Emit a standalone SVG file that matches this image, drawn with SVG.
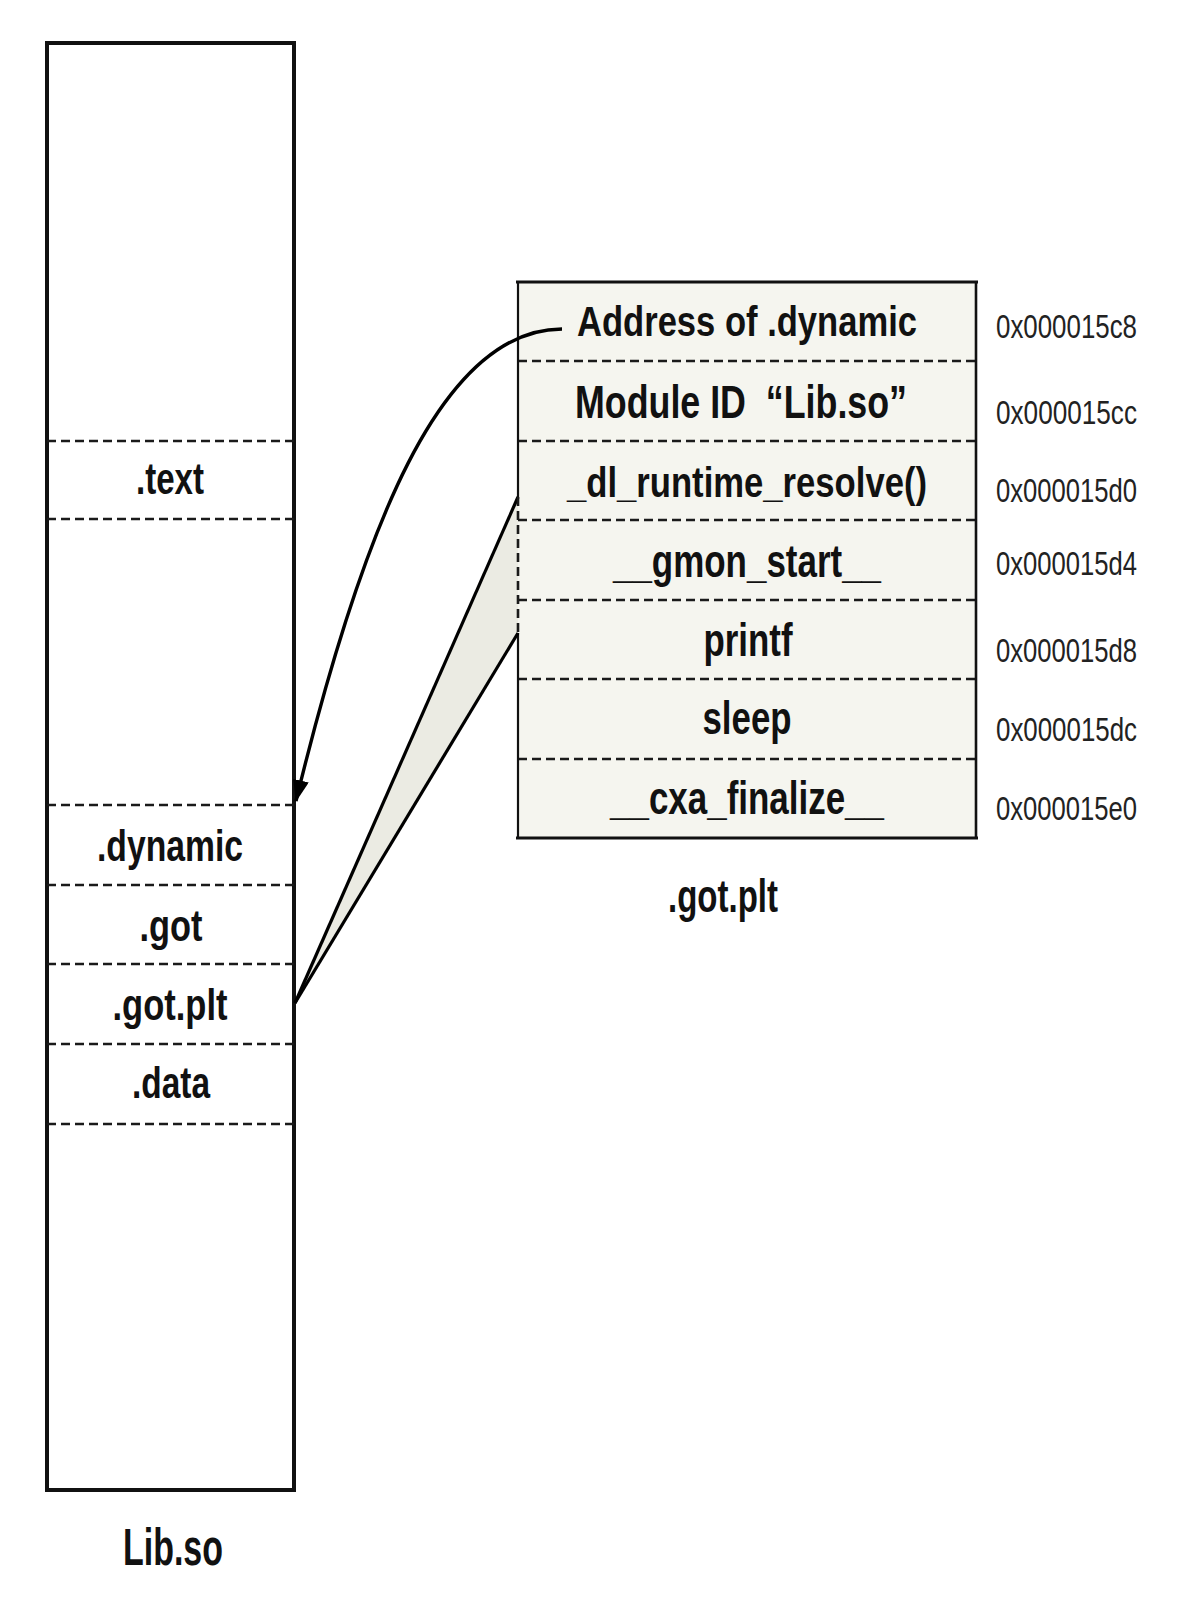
<svg xmlns="http://www.w3.org/2000/svg" width="1180" height="1602" viewBox="0 0 1180 1602">
<style>
.lbl{font-family:"Liberation Sans Narrow","Liberation Sans",Arial,sans-serif;font-weight:bold;fill:#111;text-anchor:middle}
.hex{font-family:"Liberation Sans Narrow","Liberation Sans",Arial,sans-serif;font-size:33px;fill:#222}
.dash{stroke:#1a1a1a;stroke-width:2.6;stroke-dasharray:9 5;fill:none}
.edge{stroke:#111;fill:none}
</style>
<defs>
<marker id="ah" markerUnits="userSpaceOnUse" markerWidth="24" markerHeight="18" refX="21" refY="8" orient="auto">
<path d="M0,0 L22,8 L0,16 z" fill="#000"/>
</marker>
</defs>
<rect width="1180" height="1602" fill="#fff"/>

<g id="libso">
<rect x="47" y="43" width="247" height="1447" fill="#fff" stroke="#111" stroke-width="4"/>
<line class="dash" x1="47" y1="441" x2="294" y2="441"/>
<line class="dash" x1="47" y1="519" x2="294" y2="519"/>
<line class="dash" x1="47" y1="805" x2="294" y2="805"/>
<line class="dash" x1="47" y1="885" x2="294" y2="885"/>
<line class="dash" x1="47" y1="964" x2="294" y2="964"/>
<line class="dash" x1="47" y1="1044" x2="294" y2="1044"/>
<line class="dash" x1="47" y1="1124" x2="294" y2="1124"/>
<text class="lbl" x="170" y="494" font-size="45" textLength="68" lengthAdjust="spacingAndGlyphs">.text</text>
<text class="lbl" x="170" y="861" font-size="44" textLength="146" lengthAdjust="spacingAndGlyphs">.dynamic</text>
<text class="lbl" x="171" y="941" font-size="44" textLength="63" lengthAdjust="spacingAndGlyphs">.got</text>
<text class="lbl" x="170" y="1020" font-size="44" textLength="115" lengthAdjust="spacingAndGlyphs">.got.plt</text>
<text class="lbl" x="171" y="1098" font-size="44" textLength="78" lengthAdjust="spacingAndGlyphs">.data</text>
<text class="lbl" x="173" y="1565" font-size="52" textLength="100" lengthAdjust="spacingAndGlyphs">Lib.so</text>
</g>

<g id="gotplt">
<rect x="518" y="282" width="458" height="556" fill="#f5f5ef"/>
<line class="dash" x1="518" y1="361" x2="976" y2="361"/>
<line class="dash" x1="518" y1="441" x2="976" y2="441"/>
<line class="dash" x1="518" y1="520" x2="976" y2="520"/>
<line class="dash" x1="518" y1="600" x2="976" y2="600"/>
<line class="dash" x1="518" y1="679" x2="976" y2="679"/>
<line class="dash" x1="518" y1="759" x2="976" y2="759"/>
<line class="edge" x1="516" y1="282" x2="978" y2="282" stroke-width="3"/>
<line class="edge" x1="516" y1="838" x2="978" y2="838" stroke-width="3.2"/>
<line class="edge" x1="976" y1="282" x2="976" y2="838" stroke-width="2.6"/>
<line class="edge" x1="518" y1="282" x2="518" y2="497" stroke-width="2.2"/>
<line class="edge" x1="518" y1="633" x2="518" y2="838" stroke-width="2.2"/>
<text class="lbl" x="747" y="336" font-size="43" textLength="340" lengthAdjust="spacingAndGlyphs">Address of .dynamic</text>
<text class="lbl" x="741" y="418" font-size="46" textLength="332" lengthAdjust="spacingAndGlyphs" xml:space="preserve">Module ID  “Lib.so”</text>
<text class="lbl" x="747" y="497" font-size="43" textLength="360" lengthAdjust="spacingAndGlyphs">_dl_runtime_resolve()</text>
<text class="lbl" x="747" y="577" font-size="46" textLength="268" lengthAdjust="spacingAndGlyphs">__gmon_start__</text>
<text class="lbl" x="748" y="656" font-size="46" textLength="89" lengthAdjust="spacingAndGlyphs">printf</text>
<text class="lbl" x="747" y="734" font-size="46" textLength="89" lengthAdjust="spacingAndGlyphs">sleep</text>
<text class="lbl" x="747" y="814" font-size="46" textLength="274" lengthAdjust="spacingAndGlyphs">__cxa_finalize__</text>
<text class="lbl" x="723" y="912" font-size="47" textLength="110" lengthAdjust="spacingAndGlyphs">.got.plt</text>
</g>

<g id="addresses">
<text class="hex" x="996" y="338" textLength="141" lengthAdjust="spacingAndGlyphs">0x000015c8</text>
<text class="hex" x="996" y="424" textLength="141" lengthAdjust="spacingAndGlyphs">0x000015cc</text>
<text class="hex" x="996" y="502" textLength="141" lengthAdjust="spacingAndGlyphs">0x000015d0</text>
<text class="hex" x="996" y="575" textLength="141" lengthAdjust="spacingAndGlyphs">0x000015d4</text>
<text class="hex" x="996" y="662" textLength="141" lengthAdjust="spacingAndGlyphs">0x000015d8</text>
<text class="hex" x="996" y="741" textLength="141" lengthAdjust="spacingAndGlyphs">0x000015dc</text>
<text class="hex" x="996" y="820" textLength="141" lengthAdjust="spacingAndGlyphs">0x000015e0</text>
</g>

<g id="connectors">
<polygon points="295,1003 518,497 518,633" fill="#ebebe3"/>
<line x1="295" y1="1003" x2="518" y2="497" stroke="#000" stroke-width="3.2"/>
<line x1="295" y1="1003" x2="518" y2="633" stroke="#000" stroke-width="3.2"/>
<line class="dash" x1="518" y1="497" x2="518" y2="633" stroke-width="2.2"/>
<path d="M562,329 C440,329 362,530 296,801" fill="none" stroke="#000" stroke-width="3.4" marker-end="url(#ah)"/>
</g>
</svg>
